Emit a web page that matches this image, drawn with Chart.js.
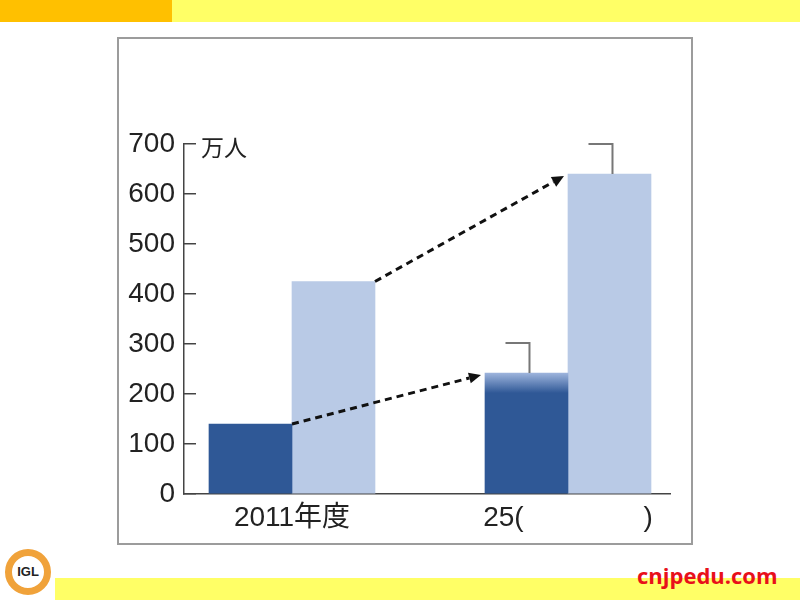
<!DOCTYPE html>
<html lang="ja">
<head>
    <meta charset="UTF-8">
    <title>万人</title>
    <script src="https://cdn.jsdelivr.net/npm/chart.js"></script>
    <style>
        body { margin: 0; width: 800px; height: 600px; background: #fff; position: relative; overflow: hidden; }
        .topbar { position: absolute; left: 0; top: 0; width: 800px; height: 22px; background: #ffff66; }
        .topbar .orange { position: absolute; left: 0; top: 0; width: 172px; height: 22px; background: #ffc000; }
        .box { position: absolute; left: 117px; top: 37px; width: 576px; height: 508px; box-sizing: border-box; border: 2px solid #9c9c9c; }
        #grafico { position: absolute; left: 119px; top: 39px; width: 572px; height: 504px; }
        .bottombar { position: absolute; left: 55px; top: 578px; width: 745px; height: 22px; background: #ffff66; }
        .logo { position: absolute; left: 5px; top: 549px; width: 46px; height: 46px; box-sizing: border-box; border-radius: 50%;
                border: 7px solid #f0a23a; background: #fff; font: bold 13px "Liberation Sans", sans-serif; color: #222;
                text-align: center; line-height: 32px; }
        .site { position: absolute; left: 637px; top: 560px; font: bold 22px "Open Sans", sans-serif; color: #e8101a; }
    </style>
</head>
<body>
    <div class="topbar"><div class="orange"></div></div>
    <div class="box"></div>
    <div id="grafico"><canvas id="grafico-info" width="572" height="504"></canvas></div>
    <div class="bottombar"></div>
    <div class="logo">IGL</div>
    <div class="site">cnjpedu.com</div>
    <script>
        const categorias = ['2011年度', '25(\u3000\u3000\u3000\u3000 )'];
        const serieEscura = [140, 242];
        const serieClara = [425, 640];
        const yTicks = [0, 100, 200, 300, 400, 500, 600, 700];
        const unidade = '万人';

        const fonte = '"Liberation Sans", "Noto Sans CJK JP", sans-serif';

        function seta(ctx, x1, y1, x2, y2) {
            const ang = Math.atan2(y2 - y1, x2 - x1);
            const cab = 12;
            const bx = x2 - Math.cos(ang) * cab;
            const by = y2 - Math.sin(ang) * cab;
            ctx.save();
            ctx.strokeStyle = '#111';
            ctx.fillStyle = '#111';
            ctx.lineWidth = 3;
            ctx.setLineDash([7, 5]);
            ctx.beginPath();
            ctx.moveTo(x1, y1);
            ctx.lineTo(bx, by);
            ctx.stroke();
            ctx.setLineDash([]);
            ctx.beginPath();
            ctx.moveTo(x2, y2);
            ctx.lineTo(bx + Math.sin(ang) * 5.5, by - Math.cos(ang) * 5.5);
            ctx.lineTo(bx - Math.sin(ang) * 5.5, by + Math.cos(ang) * 5.5);
            ctx.closePath();
            ctx.fill();
            ctx.restore();
        }

        const extras = {
            id: 'extras',
            afterDatasetsDraw(chart) {
                const ctx = chart.ctx;
                const y = chart.scales.y;
                const escuras = chart.getDatasetMeta(0).data;
                const claras = chart.getDatasetMeta(1).data;

                ctx.save();
                ctx.font = '23px "Noto Sans CJK JP", sans-serif';
                ctx.fillStyle = '#222';
                ctx.textBaseline = 'middle';
                ctx.fillText(unidade, y.right + 17, y.getPixelForValue(yTicks[yTicks.length - 1]) + 3);

                [escuras, claras].forEach(bars => {
                    const a = bars[0], b = bars[1];
                    seta(ctx, a.x + a.width / 2, a.y, b.x - b.width / 2 - 4, b.y + 2);
                });

                ctx.strokeStyle = '#777';
                ctx.lineWidth = 2;
                [escuras[1], claras[1]].forEach(bar => {
                    const x = bar.x + 3;
                    ctx.beginPath();
                    ctx.moveTo(x - 24, bar.y - 30);
                    ctx.lineTo(x, bar.y - 30);
                    ctx.lineTo(x, bar.y);
                    ctx.stroke();
                });
                ctx.restore();
            }
        };

        function corEscura(c) {
            if (c.type !== 'data' || c.dataIndex !== 1) return '#2f5896';
            const chart = c.chart;
            if (!chart.scales.y) return '#2f5896';
            const top = chart.scales.y.getPixelForValue(serieEscura[1]);
            const g = chart.ctx.createLinearGradient(0, top, 0, top + 20);
            g.addColorStop(0, '#9db4dc');
            g.addColorStop(1, '#2f5896');
            return g;
        }

        function criarGrafico() {
            const ctx = document.getElementById('grafico-info').getContext('2d');
            new Chart(ctx, {
                type: 'bar',
                data: {
                    datasets: [{
                        data: serieEscura.map((v, i) => ({ x: i + 1, y: v })),
                        backgroundColor: corEscura,
                        barThickness: 83
                    }, {
                        data: serieClara.map((v, i) => ({ x: i + 1, y: v })),
                        backgroundColor: '#b9cae6',
                        barThickness: 83
                    }]
                },
                options: {
                    responsive: false,
                    animation: false,
                    layout: { padding: { left: 5, right: 21, top: 105, bottom: 0 } },
                    plugins: { legend: { display: false }, tooltip: { enabled: false } },
                    scales: {
                        x: {
                            type: 'linear',
                            offset: false,
                            min: 0.6087,
                            max: 2.3696,
                            afterBuildTicks: s => { s.ticks = categorias.map((c, i) => ({ value: i + 1 })); },
                            afterFit: s => { s.height = 49; },
                            ticks: {
                                callback: v => categorias[v - 1],
                                autoSkip: false,
                                maxRotation: 0,
                                padding: 7,
                                color: '#222',
                                font: { family: fonte, size: 28 }
                            },
                            grid: { display: true, offset: false, drawOnChartArea: false, drawTicks: false },
                            border: { color: '#444', width: 1.5 }
                        },
                        y: {
                            min: 0,
                            max: 700,
                            afterBuildTicks: s => { s.ticks = yTicks.map(v => ({ value: v })); },
                            afterFit: s => { s.width = 60; },
                            ticks: {
                                padding: 21,
                                color: '#222',
                                font: { family: fonte, size: 28 }
                            },
                            grid: { drawOnChartArea: false, tickLength: -12, color: '#444', lineWidth: 1.5 },
                            border: { color: '#444', width: 1.5 }
                        }
                    }
                },
                plugins: [extras]
            });
        }

        window.onload = criarGrafico;
    </script>
</body>
</html>
